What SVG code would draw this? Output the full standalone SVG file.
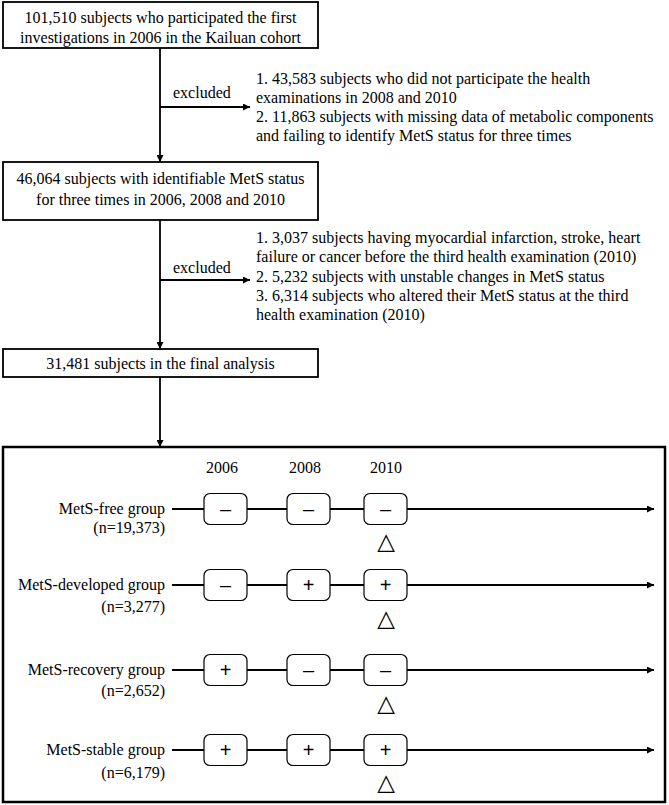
<svg xmlns="http://www.w3.org/2000/svg" width="669" height="805" viewBox="0 0 669 805">
<style>
text{font-family:"Liberation Serif","Times New Roman",serif;font-size:16px;fill:#000}
.c{text-anchor:middle}
.e{text-anchor:end}
.box{fill:#fff;stroke:#000;stroke-width:1.8}
.big{fill:#fff;stroke:#000;stroke-width:2.5}
.ln{stroke:#000;stroke-width:1.8;fill:none}
.tl{stroke:#000;stroke-width:2.2;fill:none}
.st{fill:#fff;stroke:#000;stroke-width:1.2}
.sg{font-family:"Liberation Sans",Arial,sans-serif;font-size:20px;text-anchor:middle}
.tri{font-family:"DejaVu Sans",sans-serif;font-size:23px;text-anchor:middle}
</style>
<defs>
<marker id="ah" viewBox="0 0 10 10" refX="10" refY="5" markerWidth="8" markerHeight="7" markerUnits="userSpaceOnUse" orient="auto">
<path d="M0,0 L10,5 L0,10 Z" fill="#000"/>
</marker>
</defs>
<rect width="669" height="805" fill="#fff"/>
<g id="big-box"><rect class="big" x="3" y="447" width="662" height="355"/></g>
<g id="connectors">
<line class="ln" x1="160" y1="48" x2="160" y2="162" marker-end="url(#ah)"/>
<line class="ln" x1="160" y1="107" x2="250" y2="107" marker-end="url(#ah)"/>
<line class="ln" x1="160" y1="220" x2="160" y2="349" marker-end="url(#ah)"/>
<line class="ln" x1="160" y1="280" x2="250" y2="280" marker-end="url(#ah)"/>
<line class="ln" x1="160" y1="377" x2="160" y2="447" marker-end="url(#ah)"/>
<line class="tl" x1="172" y1="509" x2="654" y2="509" marker-end="url(#ah)"/>
<line class="tl" x1="172" y1="585" x2="654" y2="585" marker-end="url(#ah)"/>
<line class="tl" x1="172" y1="670" x2="654" y2="670" marker-end="url(#ah)"/>
<line class="tl" x1="172" y1="750" x2="654" y2="750" marker-end="url(#ah)"/>
</g>
<g id="node-start">
<rect class="box" x="3" y="2" width="315" height="46"/>
<text class="c" x="160.5" y="23">101,510 subjects who participated the first</text>
<text class="c" x="160.5" y="43">investigations in 2006 in the Kailuan cohort</text>
</g>
<g id="node-excl1">
<text x="173" y="98">excluded</text>
<text x="256" y="84">1. 43,583 subjects who did not participate the health</text>
<text x="256" y="103">examinations in 2008 and 2010</text>
<text x="256" y="122">2. 11,863 subjects with missing data of metabolic components</text>
<text x="256" y="141">and failing to identify MetS status for three times</text>
</g>
<g id="node-identifiable">
<rect class="box" x="3" y="162" width="315" height="58"/>
<text class="c" x="160.5" y="184">46,064 subjects with identifiable MetS status</text>
<text class="c" x="160.5" y="205">for three times in 2006, 2008 and 2010</text>
</g>
<g id="node-excl2">
<text x="173" y="273">excluded</text>
<text x="256" y="243">1. 3,037 subjects having myocardial infarction, stroke, heart</text>
<text x="256" y="262">failure or cancer before the third health examination (2010)</text>
<text x="256" y="282">2. 5,232 subjects with unstable changes in MetS status</text>
<text x="256" y="301">3. 6,314 subjects who altered their MetS status at the third</text>
<text x="256" y="320">health examination (2010)</text>
</g>
<g id="node-final">
<rect class="box" x="3" y="349" width="315" height="28"/>
<text class="c" x="160.5" y="369">31,481 subjects in the final analysis</text>
</g>
<g id="years">
<text class="c" x="222" y="473">2006</text>
<text class="c" x="305" y="473">2008</text>
<text class="c" x="386" y="473">2010</text>
</g>
<g id="row-free">
<text class="e" x="165" y="514">MetS-free group</text>
<text class="e" x="165" y="533">(n=19,373)</text>
<rect class="st" x="204" y="493.5" width="43" height="31" rx="6"/>
<rect class="st" x="287" y="493.5" width="43" height="31" rx="6"/>
<rect class="st" x="364" y="493.5" width="43" height="31" rx="6"/>
<text class="sg" x="225.5" y="516">–</text>
<text class="sg" x="308.5" y="516">–</text>
<text class="sg" x="385.5" y="516">–</text>
<text class="tri" x="386" y="549">△</text>
</g>
<g id="row-developed">
<text class="e" x="165" y="590">MetS-developed group</text>
<text class="e" x="165" y="612">(n=3,277)</text>
<rect class="st" x="204" y="569.5" width="43" height="31" rx="6"/>
<rect class="st" x="287" y="569.5" width="43" height="31" rx="6"/>
<rect class="st" x="364" y="569.5" width="43" height="31" rx="6"/>
<text class="sg" x="225.5" y="592">–</text>
<text class="sg" x="308.5" y="592">+</text>
<text class="sg" x="385.5" y="592">+</text>
<text class="tri" x="386" y="626">△</text>
</g>
<g id="row-recovery">
<text class="e" x="165" y="675">MetS-recovery group</text>
<text class="e" x="165" y="696">(n=2,652)</text>
<rect class="st" x="204" y="654.5" width="43" height="31" rx="6"/>
<rect class="st" x="287" y="654.5" width="43" height="31" rx="6"/>
<rect class="st" x="364" y="654.5" width="43" height="31" rx="6"/>
<text class="sg" x="225.5" y="677">+</text>
<text class="sg" x="308.5" y="677">–</text>
<text class="sg" x="385.5" y="677">–</text>
<text class="tri" x="386" y="711">△</text>
</g>
<g id="row-stable">
<text class="e" x="165" y="755">MetS-stable group</text>
<text class="e" x="165" y="778">(n=6,179)</text>
<rect class="st" x="204" y="734.5" width="43" height="31" rx="6"/>
<rect class="st" x="287" y="734.5" width="43" height="31" rx="6"/>
<rect class="st" x="364" y="734.5" width="43" height="31" rx="6"/>
<text class="sg" x="225.5" y="757">+</text>
<text class="sg" x="308.5" y="757">+</text>
<text class="sg" x="385.5" y="757">+</text>
<text class="tri" x="386" y="790">△</text>
</g>
</svg>
